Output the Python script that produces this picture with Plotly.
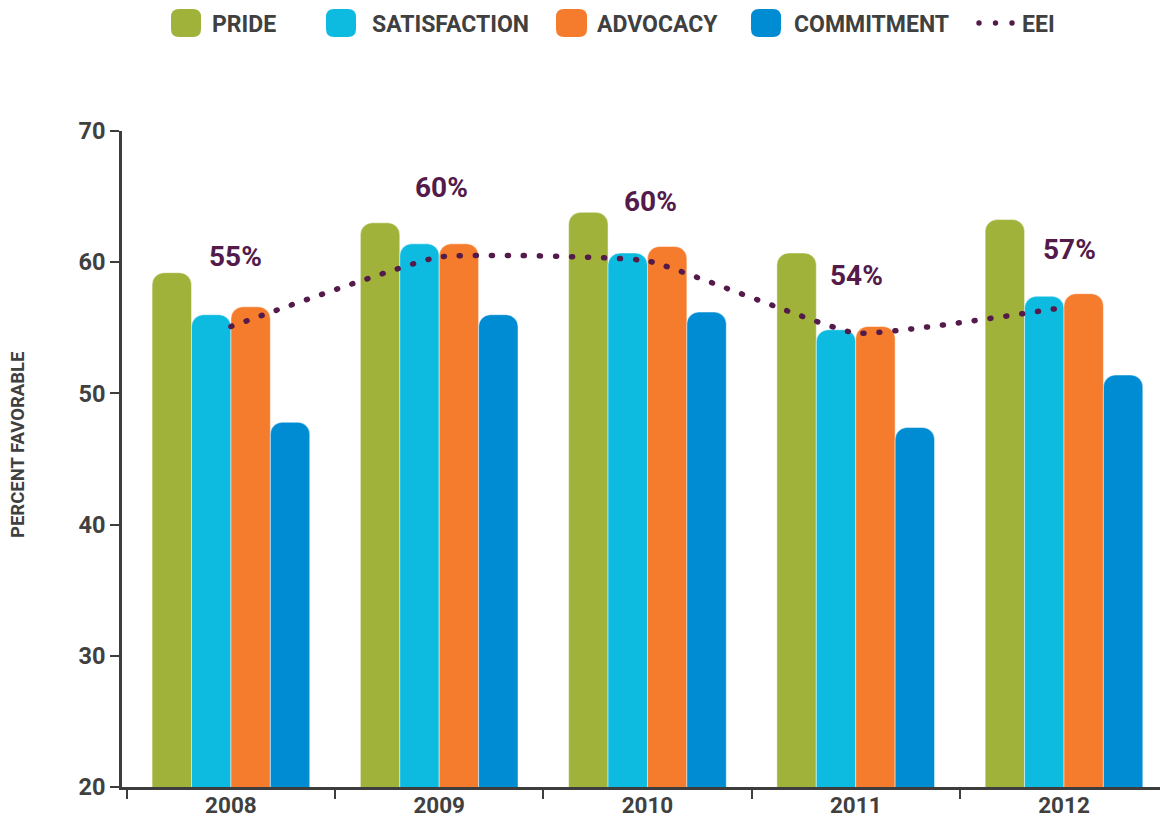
import plotly.graph_objects as go

# ---------------- data ----------------
years = ["2008", "2009", "2010", "2011", "2012"]
series_names = ["PRIDE", "SATISFACTION", "ADVOCACY", "COMMITMENT"]
pride = [59.2, 63.0, 63.8, 60.7, 63.25]
satisfaction = [56.0, 61.4, 60.7, 54.85, 57.4]
advocacy = [56.6, 61.4, 61.2, 55.1, 57.6]
commitment = [47.8, 56.0, 56.2, 47.4, 51.4]
eei = [55.1, 60.4, 60.1, 54.6, 56.55]
eei_labels = ["55%", "60%", "60%", "54%", "57%"]
y_ticks = [20, 30, 40, 50, 60, 70]

# ---------------- styles ----------------
colors = ["#A0B23A", "#0EBBE0", "#F47C2C", "#008CD3"]
eei_color = "#531A4A"
axis_color = "#3d3d3d"
text_color = "#404040"
FONT = "Roboto"

W, H = 1163, 820
ML, MR, MT, MB = 122, 3, 131, 33
PW, PH = W - ML - MR, H - MT - MB


def px2paper(px, py):
    return (px - ML) / PW, (H - MB - py) / PH


def rrect_path(x0, y0, x1, y1, r):
    pts = [
        ("M", [(x0 + r, y0)]), ("L", [(x1 - r, y0)]), ("Q", [(x1, y0), (x1, y0 + r)]),
        ("L", [(x1, y1 - r)]), ("Q", [(x1, y1), (x1 - r, y1)]),
        ("L", [(x0 + r, y1)]), ("Q", [(x0, y1), (x0, y1 - r)]),
        ("L", [(x0, y0 + r)]), ("Q", [(x0, y0), (x0 + r, y0)]),
    ]
    s = ""
    for cmd, ps in pts:
        s += cmd + " " + " ".join("%.5f,%.5f" % px2paper(a, b) for a, b in ps) + " "
    return s + "Z"


fig = go.Figure()

for name, vals, col in zip(series_names, [pride, satisfaction, advocacy, commitment], colors):
    fig.add_trace(go.Bar(
        x=years, y=vals, name=name,
        marker=dict(color=col, cornerradius=12, line=dict(color="rgba(255,255,255,0.6)", width=0.8)),
        showlegend=False, hoverinfo="x+y+name",
    ))

fig.add_trace(go.Scatter(
    x=years, y=eei, name="EEI", mode="lines",
    line=dict(color=eei_color, width=5.5, dash="1px,15px", shape="spline", smoothing=0.35),
    showlegend=False,
))

# EEI value labels (x given as category index)
label_yshift = [70, 69, 59, 58, 58]
label_xshift = [5, 2, 3, 1, 6]
annotations = []
for i, (v, t, ys, xs) in enumerate(zip(eei, eei_labels, label_yshift, label_xshift)):
    annotations.append(dict(
        x=i, y=v, xref="x", yref="y", text=t, showarrow=False,
        xanchor="center", yanchor="middle",
        yshift=ys, xshift=xs,
        font=dict(family=FONT, size=28, color=eei_color, weight="bold"),
    ))

# y-axis title
tx, ty = px2paper(18.5, 445.5)
annotations.append(dict(
    x=tx, y=ty, xref="paper", yref="paper", text="PERCENT FAVORABLE", textangle=-90,
    showarrow=False, xanchor="center", yanchor="middle",
    font=dict(family=FONT, size=18.5, color=text_color, weight="bold"),
))

# manual legend
shapes = []
legend_rects = [(171, 201), (326, 356), (556, 587), (751, 781)]
legend_text_x = [210, 370, 595, 792]
for (x0, x1), col, name, txp in zip(legend_rects, colors, series_names, legend_text_x):
    shapes.append(dict(type="path", xref="paper", yref="paper",
                       path=rrect_path(x0, 9, x1, 37, 8), fillcolor=col, line=dict(width=0)))
    ax, ay = px2paper(txp, 24)
    annotations.append(dict(
        x=ax, y=ay, xref="paper", yref="paper", text=name, showarrow=False,
        xanchor="left", yanchor="middle",
        font=dict(family=FONT, size=23, color=text_color, weight="bold"),
    ))
for cx in [979, 995.5, 1012]:
    a0 = px2paper(cx - 2.7, 23 - 2.7)
    a1 = px2paper(cx + 2.7, 23 + 2.7)
    shapes.append(dict(type="circle", xref="paper", yref="paper",
                       x0=a0[0], x1=a1[0], y0=a1[1], y1=a0[1],
                       fillcolor=eei_color, line=dict(width=0)))
ax, ay = px2paper(1020, 24)
annotations.append(dict(
    x=ax, y=ay, xref="paper", yref="paper", text="EEI", showarrow=False,
    xanchor="left", yanchor="middle",
    font=dict(family=FONT, size=23, color=text_color, weight="bold"),
))

fig.update_layout(
    width=W, height=H,
    margin=dict(l=ML, r=MR, t=MT, b=MB, pad=0, autoexpand=False),
    plot_bgcolor="white", paper_bgcolor="white",
    barmode="group", bargap=0.243, bargroupgap=0,
    showlegend=False,
    annotations=annotations, shapes=shapes,
    font=dict(family=FONT, color=text_color),
    xaxis=dict(
        type="category", range=[-0.523, 4.461], automargin=False,
        showline=True, linecolor=axis_color, linewidth=2.6,
        ticks="outside", tickson="boundaries", ticklen=9, tickwidth=2.4, tickcolor=axis_color,
        ticklabelstandoff=-4,
        showgrid=False, zeroline=False,
        tickfont=dict(family=FONT, size=22.5, color=text_color, weight="bold"),
    ),
    yaxis=dict(
        range=[20, 70], tickvals=y_ticks, ticktext=[str(v) for v in y_ticks], automargin=False,
        showline=True, linecolor=axis_color, linewidth=2.6,
        ticks="outside", ticklen=9, tickwidth=2.4, tickcolor=axis_color,
        showgrid=False, zeroline=False,
        tickfont=dict(family=FONT, size=23.5, color=text_color, weight="bold"),
    ),
)

post = (
    "document.body.style.margin='0';document.body.style.overflow='hidden';"
    "document.querySelectorAll('.scatterlayer path.js-line').forEach(function(p){"
    "p.style.strokeLinecap='round';});"
)
fig.write_html("out.html", config={"displayModeBar": False}, post_script=post)
